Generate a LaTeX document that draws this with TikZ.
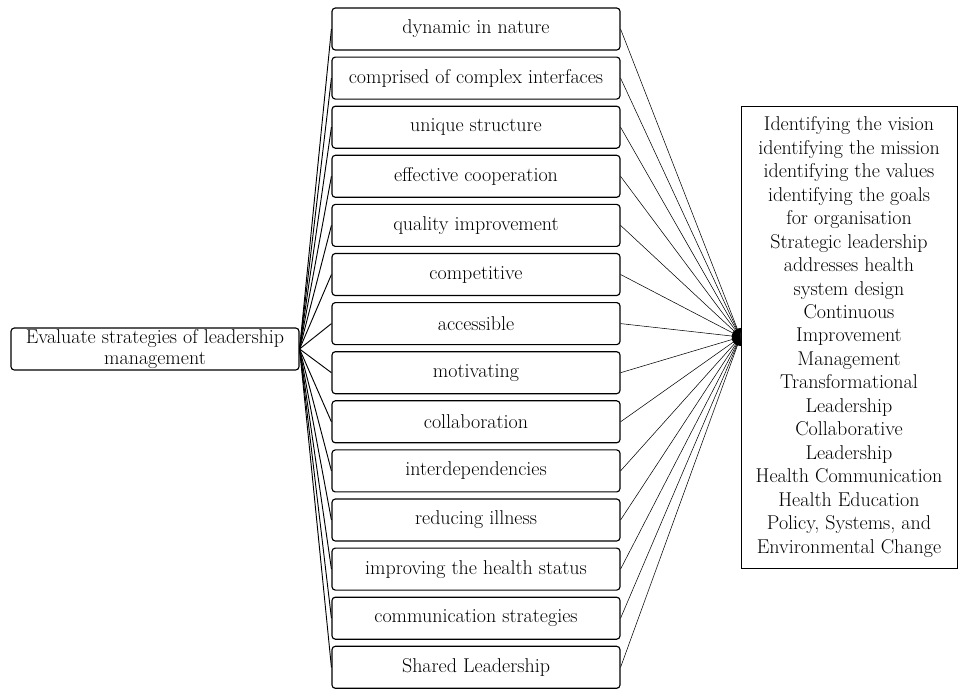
\documentclass[tikz,border=0pt]{standalone}
\usetikzlibrary{arrows.meta}
\begin{document}
\begin{tikzpicture}[x=0.75pt,y=-0.75pt,
  txt/.style={font=\fontsize{15}{17.6}\selectfont},
  rbox/.style={txt,draw,line width=0.85pt,rounded corners=2.5pt,minimum width=216pt,minimum height=31.5pt,inner sep=0pt,align=center},
  srcbox/.style={rbox,font=\fontsize{15}{15.5}\selectfont},
  bigbox/.style={txt,draw,line width=0.75pt,minimum width=162pt,minimum height=346.5pt,inner sep=0pt,align=center},
  leftline/.style={line width=0.7pt},
  rightline/.style={line width=0.4pt,-{Latex[length=6pt,width=6.5pt]}}]
\useasboundingbox (0,0) rectangle (958,689);
\node[srcbox] (src) at (155,349) {Evaluate strategies of leadership\\management};
\node[bigbox] (dst) at (849,337) {Identifying the vision\\identifying the mission\\identifying the values\\identifying the goals\\for organisation\\Strategic leadership\\addresses health\\system design\\Continuous\\Improvement\\Management\\Transformational\\Leadership\\Collaborative\\Leadership\\Health Communication\\Health Education\\Policy, Systems, and\\Environmental Change};
\foreach \t [count=\i from 0] in {dynamic in nature,comprised of complex interfaces,unique structure,effective cooperation,quality improvement,competitive,accessible,motivating,collaboration,interdependencies,reducing illness,improving the health status,communication strategies,Shared Leadership}{
  \node[rbox] (m\i) at (476,{29+49.1*\i}) {\t};
  \draw[leftline] (src.east) -- (m\i.west);
  \draw[rightline] (m\i.east) -- (dst.west);
}
\end{tikzpicture}
\end{document}
